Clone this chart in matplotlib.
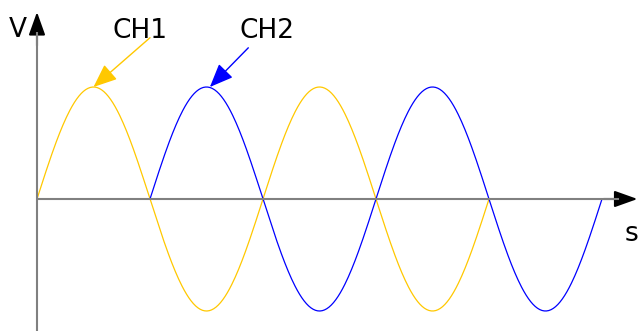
import numpy as np
import matplotlib
matplotlib.use("Agg")
import matplotlib.pyplot as plt

# two channels, same sine, CH2 delayed by half a period
channels = ["CH1", "CH2"]
colors = ["#FFC800", "#0000FF"]
start_half_cycle = [0, 1]      # where each trace starts (in half periods)
half_cycles = [4, 4]           # how many half periods each trace covers
amplitude = [1.0, 1.0]
label_pos = [(0.91, 1.44), (2.035, 1.44)]
arrow_tail = [(1.0, 1.44), (1.87, 1.35)]
arrow_tip = [(0.5, 1.0), (1.53, 1.0)]

fig = plt.figure(figsize=(6.38, 3.31), dpi=100)
ax = fig.add_axes([0, 0, 1, 1])
ax.set_xlim(-37 / 113, 601 / 113)
ax.set_ylim(-132 / 112, 199 / 112)
ax.axis("off")

for name, c, s, n, a in zip(channels, colors, start_half_cycle, half_cycles, amplitude):
    x = np.linspace(s, s + n, 400)
    y = a * np.sin(np.pi * (x - s))
    ax.plot(x, y, color=c, lw=0.9, zorder=3)

# axes with black arrow heads
head = "-|>,head_length=1.4,head_width=0.5"
x_tip = 600.5 / 113
y_tip = 187 / 112
ax.annotate("", xy=(x_tip, 0), xytext=(x_tip - 0.3, 0),
            arrowprops=dict(arrowstyle=head, color="black", lw=1.5,
                            shrinkA=0, shrinkB=0), zorder=4)
ax.annotate("", xy=(0, y_tip), xytext=(0, y_tip - 0.3),
            arrowprops=dict(arrowstyle=head, color="black", lw=1.5,
                            shrinkA=0, shrinkB=0), zorder=4)
ax.plot([0, x_tip - 19 / 113], [0, 0], color="#808080", lw=1.5, zorder=5,
        solid_capstyle="butt")
ax.plot([0, 0], [-132 / 112, y_tip - 20 / 112], color="#808080", lw=1.5,
        zorder=5, solid_capstyle="butt")

ax.text(-0.1726, 1.446, "V", fontsize=19, ha="center", va="baseline")
ax.text(5.257, -0.375, "s", fontsize=19, ha="center", va="baseline")

for name, c, lp, tail, tip in zip(channels, colors, label_pos, arrow_tail, arrow_tip):
    ax.text(lp[0], lp[1], name, fontsize=19, ha="center", va="baseline")
    ax.annotate("", xy=tip, xytext=tail,
                arrowprops=dict(arrowstyle="-|>,head_length=1.45,head_width=0.6",
                                color=c, lw=1.0, shrinkA=0, shrinkB=0),
                zorder=6)

fig.savefig("out.png", dpi=100)
